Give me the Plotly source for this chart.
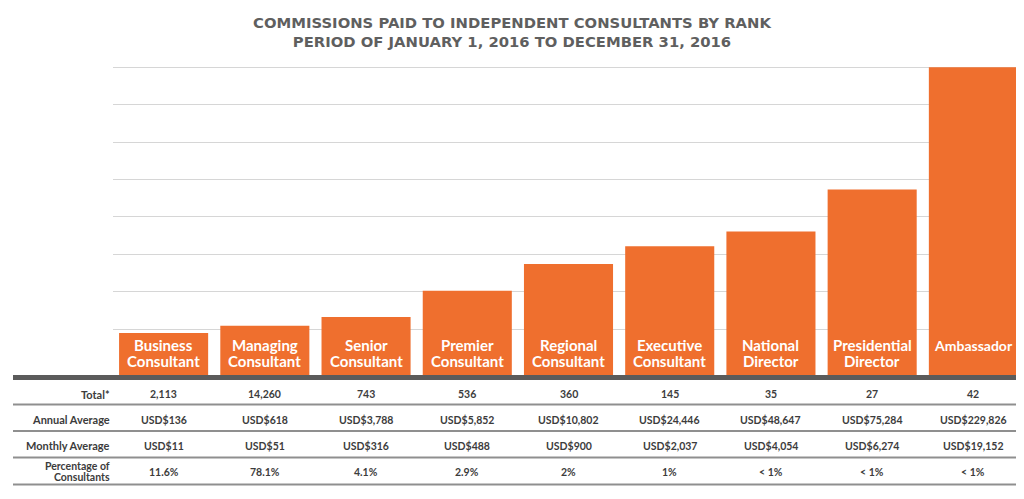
import plotly.graph_objects as go

# ---------------- data ----------------
ranks = ["Business Consultant", "Managing Consultant", "Senior Consultant",
         "Premier Consultant", "Regional Consultant", "Executive Consultant",
         "National Director", "Presidential Director", "Ambassador"]
bar_labels = ["Business<br>Consultant", "Managing<br>Consultant", "Senior<br>Consultant",
              "Premier<br>Consultant", "Regional<br>Consultant", "Executive<br>Consultant",
              "National<br>Director", "Presidential<br>Director", "Ambassador"]
# visual bar heights (in gridline units)
bar_heights = [1.12, 1.32, 1.55, 2.25, 2.97, 3.44, 3.84, 4.96, 8.23]

row_labels = ["Total*", "Annual Average", "Monthly Average", "Percentage of<br>Consultants"]
totals = ["2,113", "14,260", "743", "536", "360", "145", "35", "27", "42"]
annual = ["USD$136", "USD$618", "USD$3,788", "USD$5,852", "USD$10,802",
          "USD$24,446", "USD$48,647", "USD$75,284", "USD$229,826"]
monthly = ["USD$11", "USD$51", "USD$316", "USD$488", "USD$900",
           "USD$2,037", "USD$4,054", "USD$6,274", "USD$19,152"]
pct = ["11.6%", "78.1%", "4.1%", "2.9%", "2%", "1%", "< 1%", "< 1%", "< 1%"]
grid_vals = [1.23 + i for i in range(8)]

# ---------------- layout geometry ----------------
OFF = 8  # page body margin
W, H = 1024 - OFF, 499 - OFF
L_abs, T_abs, B_abs = 113, 60, 375  # absolute page pixels of plot area
L = L_abs - OFF
T = T_abs - OFF
B = 499 - B_abs
R = 0
plot_w = W - L - R
plot_h = H - T - B

def px_x(px):
    return (px - L_abs) / plot_w

def px_y(py):
    return (B_abs - py) / plot_h

ORANGE = "#EF6F2E"
TEXT = "#3c3c3c"
FONT = "Lato"

fig = go.Figure()
fig.add_trace(go.Bar(x=ranks, y=bar_heights, marker=dict(color=ORANGE, line=dict(width=0)),
                     hoverinfo="skip"))

ann = []
# bar labels
for r, lab in zip(ranks, bar_labels):
    lines = lab.split("<br>")
    ys = [345, 360.5]
    size = 15 if len(lines) > 1 else 14
    for ln, yy in zip(lines, ys):
        ann.append(dict(x=r, xref="x", y=px_y(yy), yref="paper", text="<b>%s</b>" % ln,
                        showarrow=False, xanchor="center", yanchor="middle",
                        font=dict(family=FONT, size=size, color="white")))

# table
row_y = [394, 419.5, 445.5, 471.5]
rows = [totals, annual, monthly, pct]
for lab, yy, vals in zip(row_labels, row_y, rows):
    lines = lab.split("<br>")
    offs = [0] if len(lines) == 1 else [-5.5, 5.5]
    fs = 11 if len(lines) == 1 else 10.5
    for ln, o in zip(lines, offs):
        ann.append(dict(x=px_x(112), xref="paper", y=px_y(yy + o), yref="paper",
                        text="<b>%s</b>" % ln, showarrow=False, xanchor="right",
                        yanchor="middle", font=dict(family=FONT, size=fs, color=TEXT)))
    for r, v in zip(ranks, vals):
        ann.append(dict(x=r, xref="x", y=px_y(yy), yref="paper", text="<b>%s</b>" % v,
                        showarrow=False, xanchor="center", yanchor="middle",
                        font=dict(family=FONT, size=10.5, color=TEXT)))

shapes = [dict(type="line", xref="paper", yref="paper", x0=px_x(13), x1=1.0,
               y0=px_y(377.5), y1=px_y(377.5), line=dict(color="#5b5b5b", width=5))]
for yy in [404.5, 431, 457.5, 484.5]:
    shapes.append(dict(type="line", xref="paper", yref="paper", x0=px_x(13), x1=1.0,
                       y0=px_y(yy), y1=px_y(yy), line=dict(color="#8f8f8f", width=2)))

fig.update_layout(
    width=W, height=H,
    margin=dict(l=L, r=R, t=T, b=B, pad=0),
    paper_bgcolor="white", plot_bgcolor="white",
    showlegend=False,
    bargap=0.12,
    title=dict(text="<b>COMMISSIONS PAID TO INDEPENDENT CONSULTANTS BY RANK<br>"
                    "PERIOD OF JANUARY 1, 2016 TO DECEMBER 31, 2016</b>",
               x=(512 - OFF) / W, xanchor="center", xref="container",
               y=1 - (28 - OFF) / H, yanchor="middle", yref="container",
               font=dict(family="DejaVu Sans", size=14.8, color="#5f5f5f")),
    xaxis=dict(showticklabels=False, showgrid=False, zeroline=False, showline=False,
               ticks="", range=[-0.5, 8.5], fixedrange=True),
    yaxis=dict(range=[0, plot_h / 37.4], tickvals=grid_vals, showticklabels=False,
               showgrid=True, gridcolor="#d6d6d6", gridwidth=1, zeroline=False,
               showline=False, ticks="", fixedrange=True),
    annotations=ann,
    shapes=shapes,
)

fig.write_html("out.html")
